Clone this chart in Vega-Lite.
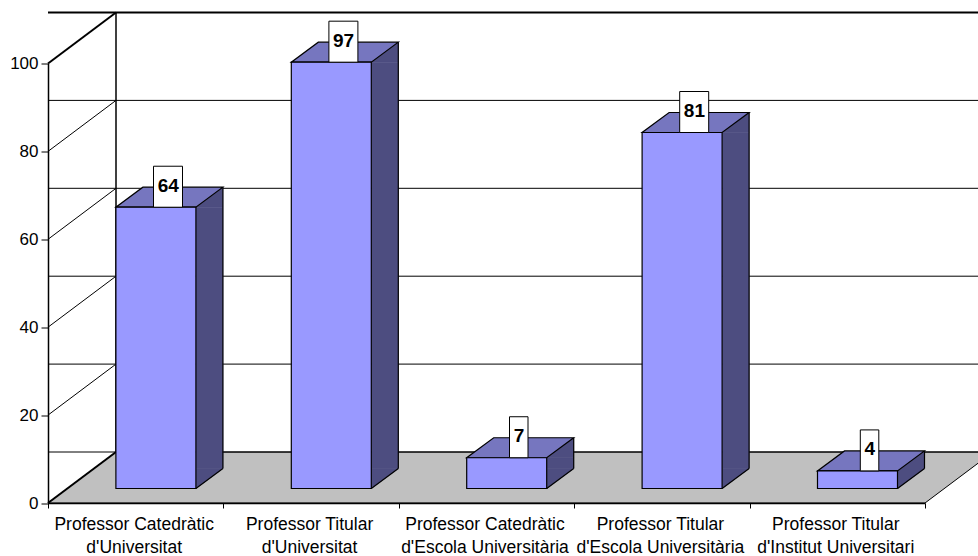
{"$schema":"https://vega.github.io/schema/vega-lite/v6.json","width":877,"height":439.5,"autosize":"none","padding":{"left":48,"top":63.5,"right":53,"bottom":53},"background":"white","config":{"view":{"stroke":null},"font":"Liberation Sans"},"datasets":{"bars":[{"cat":"Professor Catedràtic d'Universitat","value":64},{"cat":"Professor Titular d'Universitat","value":97},{"cat":"Professor Catedràtic d'Escola Universitària","value":7},{"cat":"Professor Titular d'Escola Universitària","value":81},{"cat":"Professor Titular d'Institut Universitari","value":4}],"ticks":[{"v":0},{"v":20},{"v":40},{"v":60},{"v":80},{"v":100}]},
"layer":[
{"data":{"name":"ticks"},"transform":[{"filter":"datum.v==0"}],"mark":{"type":"point","shape":"M0 0L68 -51L945 -51L877 0Z","size":4,"filled":true,"fill":"#c0c0c0","stroke":"#000","strokeWidth":1,"opacity":1},"encoding":{"x":{"value":0},"y":{"field":"v","type":"quantitative","scale":{"domain":[0,100],"nice":false},"axis":{"title":null,"values":[0,20,40,60,80,100],"grid":false,"tickSize":7,"tickColor":"#000","domainColor":"#000","domainWidth":1.5,"labelFontSize":17,"labelColor":"#000","labelPadding":3,"zindex":1}}}},
{"data":{"name":"ticks"},"mark":{"type":"rule","xOffset":68,"x2Offset":68,"yOffset":-51,"stroke":"#000"},"encoding":{"y":{"field":"v","type":"quantitative"},"strokeWidth":{"condition":{"test":"datum.v==100","value":2},"value":1}}},
{"data":{"name":"ticks"},"mark":{"type":"point","shape":"M0 0L68 -51","size":4,"filled":false,"stroke":"#000","opacity":1},"encoding":{"x":{"value":0},"y":{"field":"v","type":"quantitative"},"strokeWidth":{"condition":{"test":"datum.v==100||datum.v==0","value":2},"value":1}}},
{"data":{"name":"ticks"},"transform":[{"filter":"datum.v==0"}],"mark":{"type":"rule","stroke":"#000","strokeWidth":1.5,"xOffset":68,"yOffset":-51,"y2Offset":-51},"encoding":{"x":{"value":0},"y":{"field":"v","type":"quantitative"},"y2":{"datum":100}}},
{"data":{"name":"bars"},"transform":[{"filter":"datum.value>=5"}],"mark":{"type":"bar","size":27,"xOffset":73.7,"x2Offset":73.7,"yOffset":-14.5,"y2Offset":-34.5,"fill":"#4d4d80","stroke":"#4d4d80","strokeWidth":0.5},"encoding":{"x":{"field":"cat","type":"nominal","sort":null,"scale":{"type":"band","paddingInner":0,"paddingOuter":0},"axis":{"title":null,"tickBand":"extent","tickSize":5,"tickColor":"#000","domainColor":"#000","domainWidth":1.5,"labelAngle":0,"labelFontSize":17.5,"labelColor":"#000","labelLimit":0,"labelPadding":7,"labelOffset":-2,"labelOverlap":false,"labelBaseline":"top","labelLineHeight":23,"zindex":1,"labelExpr":"[substring(datum.label,0,indexof(datum.label,' d\\'')),substring(datum.label,indexof(datum.label,' d\\'')+1)]"}},"y":{"field":"value","type":"quantitative","stack":null},"y2":{"datum":0}}},
{"data":{"name":"bars"},"transform":[{"filter":"datum.value>=5"}],"mark":{"type":"point","shape":"M60.2 -14.5L87.2 -34.5L87.2 -14.5Z","size":4,"filled":true,"fill":"#4d4d80","stroke":"#4d4d80","strokeWidth":0.5,"opacity":1},"encoding":{"x":{"field":"cat","type":"nominal","sort":null},"y":{"field":"value","type":"quantitative"}}},
{"data":{"name":"bars"},"transform":[{"filter":"datum.value>=5"}],"mark":{"type":"point","shape":"M60.2 -14.5L87.2 -34.5L60.2 -34.5Z","size":4,"filled":true,"fill":"#4d4d80","stroke":"#4d4d80","strokeWidth":0.5,"opacity":1},"encoding":{"x":{"field":"cat","type":"nominal","sort":null},"y":{"datum":0,"type":"quantitative"}}},
{"data":{"name":"bars"},"transform":[{"filter":"datum.value<5"}],"mark":{"type":"point","shape":"M60.2 -14.5L87.2 -34.5L87.2 -16.9L60.2 3.1Z","size":4,"filled":true,"fill":"#4d4d80","stroke":"#4d4d80","strokeWidth":0.5,"opacity":1},"encoding":{"x":{"field":"cat","type":"nominal","sort":null},"y":{"field":"value","type":"quantitative"}}},
{"data":{"name":"bars"},"mark":{"type":"point","shape":"M60.2 -14.5L87.2 -34.5","size":4,"filled":false,"stroke":"#000","strokeWidth":1.2,"opacity":1},"encoding":{"x":{"field":"cat","type":"nominal","sort":null},"y":{"datum":0,"type":"quantitative"}}},
{"data":{"name":"bars"},"mark":{"type":"rule","stroke":"#000","strokeWidth":1.2,"xOffset":87.2,"yOffset":-34.5,"y2Offset":-34.5},"encoding":{"x":{"field":"cat","type":"nominal","sort":null},"y":{"field":"value","type":"quantitative"},"y2":{"datum":0}}},
{"data":{"name":"bars"},"mark":{"type":"point","shape":"M-19.8 -14.5L60.2 -14.5L87.2 -34.5L7.2 -34.5Z","size":4,"filled":true,"fill":"#7676bf","stroke":"#000","strokeWidth":1.2,"opacity":1},"encoding":{"x":{"field":"cat","type":"nominal","sort":null},"y":{"field":"value","type":"quantitative"}}},
{"data":{"name":"bars"},"mark":{"type":"bar","size":80,"xOffset":20.2,"x2Offset":20.2,"yOffset":-14.5,"y2Offset":-14.5,"fill":"#9999ff","stroke":"#000","strokeWidth":1.2},"encoding":{"x":{"field":"cat","type":"nominal","sort":null},"y":{"field":"value","type":"quantitative","stack":null},"y2":{"datum":0}}},
{"data":{"name":"bars"},"transform":[{"filter":"datum.value>=10"}],"mark":{"type":"point","shape":"M17.8 -55.5H46.8V-14.5H17.8Z","size":4,"filled":true,"fill":"#fff","stroke":"#000","strokeWidth":1,"opacity":1},"encoding":{"x":{"field":"cat","type":"nominal","sort":null},"y":{"field":"value","type":"quantitative"}}},
{"data":{"name":"bars"},"transform":[{"filter":"datum.value<10"}],"mark":{"type":"point","shape":"M23 -55.5H41.5V-14.5H23Z","size":4,"filled":true,"fill":"#fff","stroke":"#000","strokeWidth":1,"opacity":1},"encoding":{"x":{"field":"cat","type":"nominal","sort":null},"y":{"field":"value","type":"quantitative"}}},
{"data":{"name":"bars"},"mark":{"type":"text","font":"Liberation Sans","fontWeight":"bold","fontSize":19,"color":"#000","dx":32.5,"dy":-36,"baseline":"middle","align":"center"},"encoding":{"x":{"field":"cat","type":"nominal","sort":null},"y":{"field":"value","type":"quantitative"},"text":{"field":"value","type":"quantitative"}}}
]}
